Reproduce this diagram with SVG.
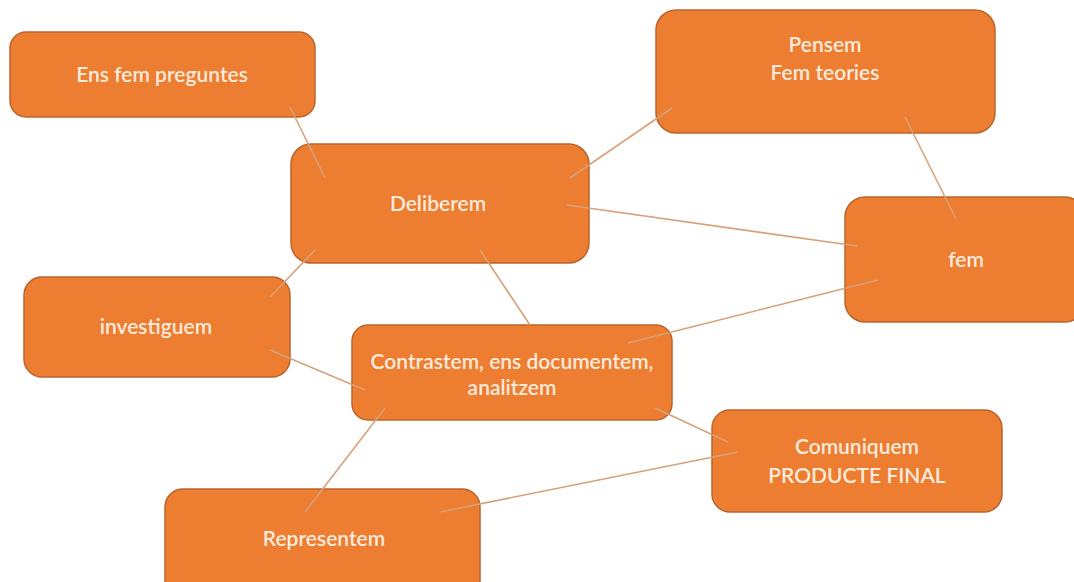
<svg xmlns="http://www.w3.org/2000/svg" width="1074" height="582" viewBox="0 0 1074 582">
<style>
.n{fill:#ED7D31;stroke:#B8652E;stroke-width:1.5}
.t{font-family:Lato,"Open Sans",sans-serif;font-size:21px;fill:#FCEBDD;text-anchor:middle;font-weight:600}
.c{stroke:#D8A07A;stroke-width:1.6;fill:none}
</style>
<rect width="1074" height="582" fill="#ffffff"/>
<g id="n1"><rect class="n" x="10" y="32" width="305" height="85" rx="16"/><text class="t" x="162" y="82">Ens fem  preguntes</text></g>
<g id="n2"><rect class="n" x="656" y="10" width="339" height="123" rx="20"/><text class="t" x="825" y="52">Pensem</text><text class="t" x="825" y="80">Fem teories</text></g>
<g id="n3"><rect class="n" x="291" y="144" width="298" height="119" rx="20"/><text class="t" x="438" y="211">Deliberem</text></g>
<g id="n4"><rect class="n" x="845" y="197" width="240" height="125" rx="20"/><text class="t" x="966" y="267">fem</text></g>
<g id="n5"><rect class="n" x="24" y="277" width="266" height="100" rx="18"/><text class="t" x="156" y="334">investiguem</text></g>
<g id="n6"><rect class="n" x="352" y="325" width="320" height="95" rx="16"/><text class="t" x="512" y="369">Contrastem, ens documentem,</text><text class="t" x="512" y="395">analitzem</text></g>
<g id="n7"><rect class="n" x="712" y="410" width="290" height="102" rx="18"/><text class="t" x="857" y="454">Comuniquem</text><text class="t" x="857" y="483">PRODUCTE FINAL</text></g>
<g id="n8"><rect class="n" x="165" y="489" width="315" height="110" rx="18"/><text class="t" x="324" y="546">Representem</text></g>
<g id="connectors">
<line class="c" x1="290" y1="107" x2="325" y2="178"/>
<line class="c" x1="672" y1="108" x2="570" y2="178"/>
<line class="c" x1="905" y1="117" x2="956" y2="219"/>
<line class="c" x1="567" y1="205" x2="857" y2="246"/>
<line class="c" x1="878" y1="280" x2="628" y2="343"/>
<line class="c" x1="480" y1="250" x2="530" y2="325"/>
<line class="c" x1="315" y1="250" x2="270" y2="297"/>
<line class="c" x1="270" y1="350" x2="365" y2="390"/>
<line class="c" x1="385" y1="408" x2="305" y2="512"/>
<line class="c" x1="655" y1="408" x2="728" y2="442"/>
<line class="c" x1="738" y1="452" x2="440" y2="512"/>
</g>
</svg>
